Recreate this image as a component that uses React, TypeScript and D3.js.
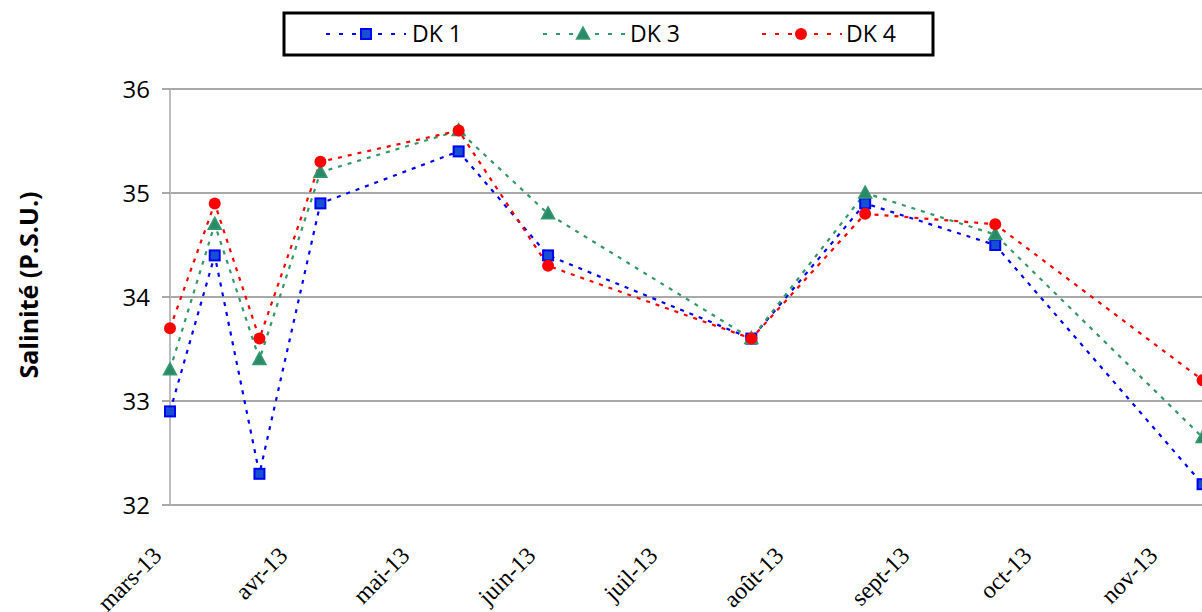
import React from "react";
import * as d3 from "d3";

const sampleDates = ["2013-03-01", "2013-03-12", "2013-03-23", "2013-04-07", "2013-05-11", "2013-06-02", "2013-07-22", "2013-08-19", "2013-09-20", "2013-11-10"];
const dk1 = [32.9, 34.4, 32.3, 34.9, 35.4, 34.4, 33.6, 34.9, 34.5, 32.2];
const dk3 = [33.3, 34.7, 33.4, 35.2, 35.6, 34.8, 33.6, 35.0, 34.6, 32.65];
const dk4 = [33.7, 34.9, 33.6, 35.3, 35.6, 34.3, 33.6, 34.8, 34.7, 33.2];
const monthTicks = ["2013-03-01", "2013-04-01", "2013-05-01", "2013-06-01", "2013-07-01", "2013-08-01", "2013-09-01", "2013-10-01", "2013-11-01"];
const monthLabels = ["mars-13", "avr-13", "mai-13", "juin-13", "juil-13", "août-13", "sept-13", "oct-13", "nov-13"];
const yTicks = [32, 33, 34, 35, 36];
const seriesNames = ["DK 1", "DK 3", "DK 4"];

const W = 1202;
const H = 612;
const left = 170;
const top = 89;
const bottom = 505;

const parse = (s: string) => new Date(s + "T00:00:00Z");

export default function App() {
  const x = d3.scaleUtc().domain([parse("2013-03-01"), parse("2013-11-01")]).range([left, 1166]);
  const y = d3.scaleLinear().domain([32, 36]).range([bottom, top]);

  const series = [
    { name: seriesNames[0], values: dk1, color: "#0000ff", marker: "square" },
    { name: seriesNames[1], values: dk3, color: "#339966", marker: "triangle" },
    { name: seriesNames[2], values: dk4, color: "#ff0000", marker: "circle" },
  ];

  const line = d3
    .line<[Date, number]>()
    .x((d) => x(d[0]))
    .y((d) => y(d[1]));

  const marker = (type: string, cx: number, cy: number, key: any) => {
    if (type === "square")
      return <rect key={key} x={cx - 5} y={cy - 5} width={10} height={10} fill="#1650d0" stroke="#0000ff" strokeWidth={2} />;
    if (type === "triangle") {
      const p = d3.path();
      p.moveTo(cx, cy - 7);
      p.lineTo(cx + 6.5, cy + 5);
      p.lineTo(cx - 6.5, cy + 5);
      p.closePath();
      return <path key={key} d={p.toString()} fill="#2a8a68" stroke="#35996f" strokeWidth={1.5} />;
    }
    return <circle key={key} cx={cx} cy={cy} r={6} fill="#ff0000" />;
  };

  const legendItems = [
    { lx1: 326, lx2: 406, mx: 366, tx: 412 },
    { lx1: 543, lx2: 625, mx: 583, tx: 630 },
    { lx1: 762, lx2: 842, mx: 801, tx: 846 },
  ];

  return (
    <svg width={W} height={H} style={{ position: "absolute", left: 0, top: 0, background: "#ffffff" }}>
      <rect x={0} y={0} width={W} height={H} fill="#ffffff" />
      {yTicks.map((t) => (
        <line key={"g" + t} x1={left} x2={W + 50} y1={y(t)} y2={y(t)} stroke="#8c8c8c" strokeWidth={1.5} />
      ))}
      <line x1={left} x2={left} y1={top} y2={bottom} stroke="#bdbdbd" strokeWidth={2} />
      {yTicks.map((t) => (
        <g key={"t" + t}>
          <line x1={left - 8} x2={left} y1={y(t)} y2={y(t)} stroke="#8c8c8c" strokeWidth={1.5} />
          <text x={150} y={y(t) + 8.6} textAnchor="end" fontFamily="'Open Sans', sans-serif" fontSize={24} fill="#000">
            {t}
          </text>
        </g>
      ))}
      {monthTicks.map((m, i) => {
        const tx = x(parse(m));
        return (
          <text
            key={"x" + m}
            transform={`translate(${tx - 7},${557}) rotate(-45)`}
            textAnchor="end"
            fontFamily="'Liberation Serif', 'Times New Roman', serif"
            fontSize={24}
            fill="#000"
          >
            {monthLabels[i]}
          </text>
        );
      })}
      <text
        transform={`translate(28,285) rotate(-90)`}
        textAnchor="middle"
        dominantBaseline="central"
        fontFamily="'Open Sans', sans-serif"
        fontWeight={700}
        fontSize={25}
        fill="#000"
      >
        Salinité (P.S.U.)
      </text>
      {series.map((s) => {
        const pts: [Date, number][] = sampleDates.map((d, i) => [parse(d), s.values[i]]);
        return (
          <g key={s.name}>
            <path d={line(pts) || ""} fill="none" stroke={s.color} strokeWidth={2.2} strokeDasharray="4 6" />
          </g>
        );
      })}
      {series.map((s) => (
        <g key={s.name + "m"}>
          {sampleDates.map((d, i) => marker(s.marker, x(parse(d)), y(s.values[i]), i))}
        </g>
      ))}
      <rect x={284} y={13} width={649} height={42} fill="#ffffff" stroke="#000000" strokeWidth={3} />
      {series.map((s, i) => {
        const it = legendItems[i];
        return (
          <g key={s.name + "l"}>
            <line x1={it.lx1} x2={it.lx2} y1={34} y2={34} stroke={s.color} strokeWidth={2.2} strokeDasharray="4 9" />
            {marker(s.marker, it.mx, 34, "lm")}
            <text x={it.tx} y={42} fontFamily="'Open Sans', sans-serif" fontSize={23} fill="#000">
              {s.name}
            </text>
          </g>
        );
      })}
    </svg>
  );
}
